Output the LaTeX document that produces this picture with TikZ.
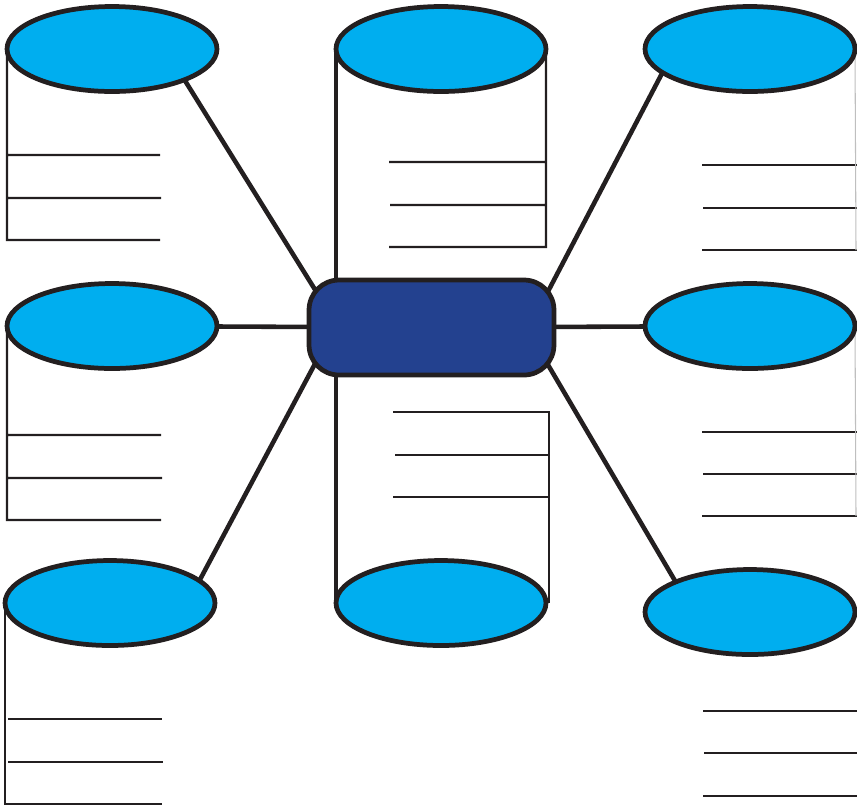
\documentclass[tikz,border=0pt]{standalone}
\usetikzlibrary{shapes.geometric,backgrounds,calc}
\definecolor{lidblue}{HTML}{00AEEF}
\definecolor{hubblue}{HTML}{23418F}
\definecolor{inkline}{HTML}{231F20}
\begin{document}
\begin{tikzpicture}[x=0.02cm,y=-0.02cm,
    lid/.style={ellipse,draw=inkline,line width=2.7pt,fill=lidblue,inner sep=0pt,outer sep=0pt,minimum width=4.2cm,minimum height=1.7cm},
    hubbox/.style={rectangle,rounded corners=0.6cm,draw=inkline,line width=2.7pt,fill=hubblue,outer sep=0pt,minimum width=4.9cm,minimum height=1.9cm},
    spoke/.style={draw=inkline,line width=2.6pt},
    writeline/.style={draw=inkline,line width=1.25pt},
    faintline/.style={draw=black!25,line width=0.6pt}
]
    \useasboundingbox (0,0) rectangle (857,806);

    \node [hubbox] (centre) at (431.5,327.5) {};
    \node [lid] (tl) at (112,49) {};
    \node [lid] (tc) at (441,49) {};
    \node [lid] (tr) at (750,49) {};
    \node [lid] (ml) at (112,326) {};
    \node [lid] (mr) at (750,326) {};
    \node [lid] (bl) at (110,603) {};
    \node [lid] (bc) at (441,603) {};
    \node [lid] (br) at (750,612) {};

    \begin{scope}[on background layer]
        \draw [spoke] (tl.-23) -- ($(tl.-23)!1.12!(centre.north west)$);
        \draw [spoke] (tr.-165) -- ($(tr.-165)!1.12!(centre.north east)$);
        \draw [spoke] (bl.14) -- ($(bl.14)!1.12!(centre.south west)$);
        \draw [spoke] (br.158) -- ($(br.158)!1.12!(centre.south east)$);
        \draw [spoke] (ml) -- (centre);
        \draw [spoke] (mr) -- (centre);
        \draw [spoke] (tc.west) -- (tc.west |- centre.north);
        \draw [spoke] (bc.west |- centre.south) -- (bc.west);

        \draw [writeline] (tl.west) -- (7,240) -- (160,240) (7,155) -- (160,155) (7,198) -- (161,198);
        \draw [writeline] (ml.west) -- (7,520) -- (161,520) (7,435) -- (161,435) (7,478) -- (162,478);
        \draw [writeline] (bl.west) -- (bl.west |- 0,804) -- (162,804) (8,719) -- (162,719) (8,762) -- (163,762);

        \draw [writeline] (tc.east) -- (546,247) -- (389,247) (389,162) -- (546,162) (390,205) -- (546,205);
        \draw [writeline] (549,603) -- (549,412) -- (393,412) (395,455) -- (549,455) (393,497) -- (549,497);

        \draw [writeline] (702,165) -- (857,165) (703,208) -- (857,208) (702,250) -- (857,250);
        \draw [writeline] (702,432) -- (857,432) (703,474) -- (857,474) (702,516) -- (857,516);
        \draw [writeline] (703,711) -- (857,711) (704,753) -- (857,753) (703,796) -- (857,796);
        \draw [faintline] (tr.east) -- (856,250);
        \draw [faintline] (mr.east) -- (856,516);
    \end{scope}

\end{tikzpicture}
\end{document}
